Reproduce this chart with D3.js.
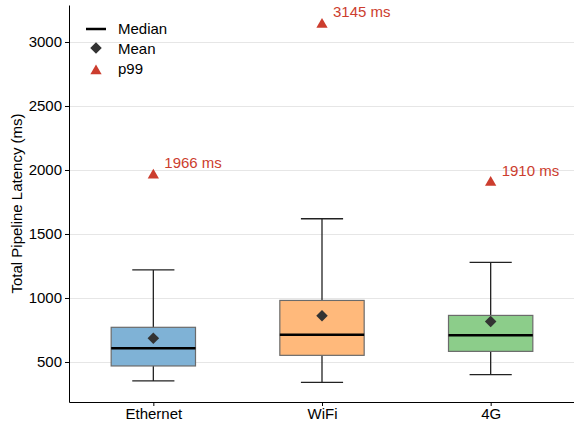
<!DOCTYPE html>
<html>
<head>
<meta charset="utf-8">
<script src="https://cdn.jsdelivr.net/npm/d3@7"></script>
<style>
  body { margin: 0; background: #fff; }
  text { font-family: "Liberation Sans", Arial, sans-serif; }
</style>
</head>
<body>
<script>
var categories = ["Ethernet", "WiFi", "4G"];
var whiskerLow = [352, 341, 401];
var q1 = [469, 552, 583];
var median = [607, 713, 708];
var q3 = [771, 981, 864];
var whiskerHigh = [1219, 1619, 1278];
var means = [686, 862, 817];
var p99 = [1966, 3145, 1910];
var boxColors = ["#7fb2d6", "#ffb97b", "#8ccd8a"];
var yTicks = [500, 1000, 1500, 2000, 2500, 3000];

var width = 574, height = 424;
var margin = {left: 69, right: 0, top: 5, bottom: 22};
var fs = 15;

var svg = d3.select("body").append("svg")
    .attr("width", width)
    .attr("height", height);

var x = d3.scaleLinear()
    .domain([-0.5, 2.5])
    .range([margin.left, 575]);

var y = d3.scaleLinear()
    .domain([187.5, 3289])
    .range([height - margin.bottom, margin.top]);

// gridlines
svg.selectAll(".grid")
    .data(yTicks)
    .enter()
    .append("line")
    .attr("x1", margin.left)
    .attr("x2", width)
    .attr("y1", function(d){ return Math.round(y(d)) + 0.5; })
    .attr("y2", function(d){ return Math.round(y(d)) + 0.5; })
    .attr("stroke", "#e6e6e6")
    .attr("stroke-width", 1);

var boxW = 0.5, capW = 0.25;

var g = svg.selectAll(".box")
    .data(categories)
    .enter()
    .append("g");

// whiskers
g.append("line")
    .attr("x1", function(d, i){ return x(i); })
    .attr("x2", function(d, i){ return x(i); })
    .attr("y1", function(d, i){ return y(whiskerLow[i]); })
    .attr("y2", function(d, i){ return y(whiskerHigh[i]); })
    .attr("stroke", "#222").attr("stroke-width", 1.3);
[whiskerLow, whiskerHigh].forEach(function(arr){
    g.append("line")
        .attr("x1", function(d, i){ return x(i - capW / 2); })
        .attr("x2", function(d, i){ return x(i + capW / 2); })
        .attr("y1", function(d, i){ return y(arr[i]); })
        .attr("y2", function(d, i){ return y(arr[i]); })
        .attr("stroke", "#222").attr("stroke-width", 1.3);
});

// box
g.append("rect")
    .attr("x", function(d, i){ return x(i - boxW / 2); })
    .attr("width", function(){ return x(boxW) - x(0); })
    .attr("y", function(d, i){ return y(q3[i]); })
    .attr("height", function(d, i){ return y(q1[i]) - y(q3[i]); })
    .attr("fill", function(d, i){ return boxColors[i]; })
    .attr("stroke", "#6b6b6b")
    .attr("stroke-width", 1.2);

// median
g.append("line")
    .attr("x1", function(d, i){ return x(i - boxW / 2); })
    .attr("x2", function(d, i){ return x(i + boxW / 2); })
    .attr("y1", function(d, i){ return y(median[i]); })
    .attr("y2", function(d, i){ return y(median[i]); })
    .attr("stroke", "#000").attr("stroke-width", 2.5);

// mean diamond
var diamond = d3.symbol().type(d3.symbolDiamond2).size(85);
g.append("path")
    .attr("d", diamond)
    .attr("transform", function(d, i){ return "translate(" + x(i) + "," + y(means[i]) + ")"; })
    .attr("fill", "#333");

// p99 triangle
var tri = d3.symbol().type(d3.symbolTriangle).size(55);
g.append("path")
    .attr("d", tri)
    .attr("transform", function(d, i){ return "translate(" + x(i) + "," + (y(p99[i]) + 1) + ")"; })
    .attr("fill", "#cc3d2e");

g.append("text")
    .attr("x", function(d, i){ return x(i) + 11; })
    .attr("y", function(d, i){ return y(p99[i]) - 6; })
    .attr("fill", "#cc3d2e")
    .attr("font-size", fs)
    .text(function(d, i){ return p99[i] + " ms"; });

// axes
var yAxis = d3.axisLeft(y).tickValues(yTicks).tickFormat(d3.format("d"))
    .tickSize(4).tickSizeOuter(0).tickPadding(3);
var yg = svg.append("g")
    .attr("transform", "translate(" + margin.left + ",0)")
    .call(yAxis);
yg.select(".domain").attr("stroke", "#000");
yg.selectAll("text").attr("font-size", fs).attr("fill", "#000");

var xAxis = d3.axisBottom(x).tickValues([0, 1, 2])
    .tickFormat(function(d){ return categories[d]; })
    .tickSize(4).tickSizeOuter(0).tickPadding(2);
var xg = svg.append("g")
    .attr("transform", "translate(0," + (height - margin.bottom) + ")")
    .call(xAxis);
xg.select(".domain").attr("stroke", "#000");
xg.selectAll("text").attr("font-size", fs).attr("fill", "#000");

svg.append("text")
    .attr("transform", "translate(22," + ((margin.top + height - margin.bottom) / 2) + ") rotate(-90)")
    .attr("text-anchor", "middle")
    .attr("font-size", fs)
    .text("Total Pipeline Latency (ms)");

// legend
var legend = svg.append("g");
legend.append("line")
    .attr("x1", 86).attr("x2", 106).attr("y1", 29).attr("y2", 29)
    .attr("stroke", "#000").attr("stroke-width", 2.5);
legend.append("path")
    .attr("d", diamond)
    .attr("transform", "translate(96,48)")
    .attr("fill", "#333");
legend.append("path")
    .attr("d", tri)
    .attr("transform", "translate(96,71)")
    .attr("fill", "#cc3d2e");
legend.selectAll(".lt")
    .data(["Median", "Mean", "p99"])
    .enter()
    .append("text")
    .attr("x", 118)
    .attr("y", function(d, i){ return 34 + i * 20; })
    .attr("font-size", fs)
    .text(function(d){ return d; });
</script>
</body>
</html>
